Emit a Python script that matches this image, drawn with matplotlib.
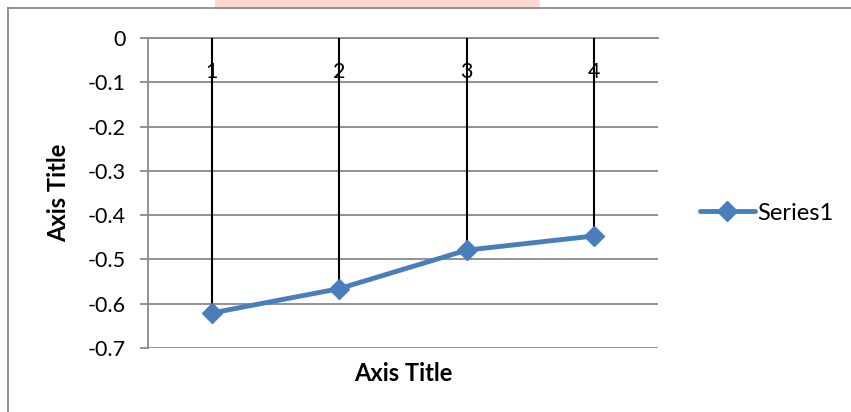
"""Excel-style line chart with drop lines, negative values."""

import matplotlib

matplotlib.use("Agg")
import matplotlib.pyplot as plt
from matplotlib.lines import Line2D
from matplotlib.patches import Rectangle

categories = [1, 2, 3, 4]
series1 = [-0.621, -0.566, -0.479, -0.447]
y_ticks = [0, -0.1, -0.2, -0.3, -0.4, -0.5, -0.6, -0.7]

GRID = "#898989"
BLUE = "#4a7ebb"

plt.rcParams["font.family"] = ["Lato", "DejaVu Sans"]

W, H = 851, 412
fig = plt.figure(figsize=(W / 100, H / 100), dpi=100)
ax = fig.add_axes([148 / W, (H - 348) / H, 510 / W, 310 / H])

# drop lines from the category axis down to each point
ax.vlines(categories, 0, series1, color="black", lw=1.5, zorder=3)
ax.plot(categories, series1, color=BLUE, lw=3.5, marker="D", ms=10,
        label="Series1", zorder=4, solid_capstyle="round")

ax.set_xlim(0.5, 4.5)
ax.set_ylim(-0.7, 0)
ax.set_yticks(y_ticks)
ax.set_yticklabels([f"{v:g}" for v in y_ticks])
ax.set_xticks(categories)
ax.set_xticklabels([str(c) for c in categories])

for s in ("top", "right"):
    ax.spines[s].set_visible(False)
ax.spines["bottom"].set_position(("data", 0))
ax.spines["bottom"].set_color(GRID)
ax.spines["left"].set_color(GRID)
ax.spines["bottom"].set_linewidth(1.3)
ax.spines["left"].set_linewidth(1.3)

ax.grid(True, axis="y", color=GRID, lw=1.3)
ax.set_axisbelow(True)

ax.tick_params(axis="y", direction="out", length=6, width=1.3, color=GRID,
               labelsize=15.5, pad=10)
ax.tick_params(axis="x", length=0, labelsize=15.5, pad=17)

ax.set_xlabel("Axis Title", fontsize=17, fontweight="bold")
ax.set_ylabel("Axis Title", fontsize=17, fontweight="bold")
ax.xaxis.set_label_coords(0.5, -0.045)
ax.yaxis.set_label_coords(-0.152, 0.5)

ax.legend(loc="center left", bbox_to_anchor=(1.04, 0.435), frameon=False,
          fontsize=17, handlelength=2.35, handletextpad=0.1)

# chart border and faint pink strip at the very top
fig.add_artist(Line2D([8 / W, 8 / W], [0, (H - 8) / H], color=GRID, lw=1.3))
fig.add_artist(Line2D([8 / W, 1], [(H - 8) / H, (H - 8) / H], color=GRID, lw=1.3))
fig.add_artist(Rectangle((215 / W, (H - 7) / H), 325 / W, 7 / H,
                         color="#fdd8d0", lw=0))

fig.savefig("out.png", dpi=100)
plt.close(fig)
